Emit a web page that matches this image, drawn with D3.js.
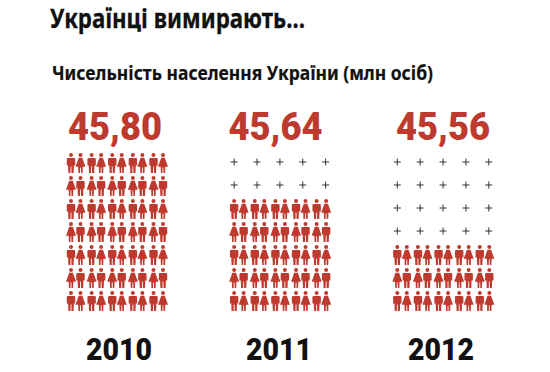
<!DOCTYPE html>
<html>
<head>
<meta charset="utf-8">
<script src="https://cdnjs.cloudflare.com/ajax/libs/d3/7.8.5/d3.min.js"></script>
<style>
  html, body { margin: 0; padding: 0; background: #fff; }
  svg { display: block; }
  text { font-family: "Noto Sans", sans-serif; font-weight: 700; fill: #111; }
  .num, .year { font-family: Roboto, sans-serif; font-weight: 900; }
</style>
</head>
<body>
<div id="chart"></div>
<script>
const titleText = 'Українці вимирають...';
const subtitleText = 'Чисельність населення України (млн осіб)';
const years = ['2010', '2011', '2012'];
const valueLabels = ['45,80', '45,64', '45,56'];
const emptyRows = [0, 2, 4];   // rows of plus signs above the figures
const peopleRows = [7, 5, 3];  // rows of figures

const RED = '#bf3a2e';
const width = 550, height = 372;
const rowCount = d3.max(peopleRows);

const svg = d3.select('#chart').append('svg')
  .attr('width', width)
  .attr('height', height);

// one scale per direction, the little figures are placed from these
const colX = d3.scalePoint().domain(years).range([71, 397.3]);
const rowY = d3.scalePoint().domain(d3.range(rowCount)).range([153, 291]);
const pairX = d3.scalePoint().domain(d3.range(5)).range([0, 82.5]);
const plusX = d3.scalePoint().domain(d3.range(5)).range([0, 91.5]);
const valueX = d3.scaleOrdinal().domain(years).range([115, 275.5, 443]);
const yearX = d3.scaleOrdinal().domain(years).range([119, 279, 441]);

const manBody = 'M-3.6,5 L3.6,5 L4.2,6 L4.2,12.5 L2.9,12.5 L2.6,20 L0.5,20 L0.4,13.5 L-0.4,13.5 L-0.5,20 L-2.6,20 L-2.9,12.5 L-4.2,12.5 L-4.2,6 Z';
const womanBody = 'M-1.8,4.8 L1.8,4.8 L5,13.8 L2.3,13.8 L2.1,20 L0.5,20 L0.4,14.5 L-0.4,14.5 L-0.5,20 L-2.1,20 L-2.3,13.8 L-5,13.8 Z';

function addFigure(g, x, y, isMan) {
  const fig = g.append('g').attr('transform', `translate(${x},${y})`).attr('fill', RED);
  fig.append('circle').attr('cx', 0).attr('cy', 2).attr('r', 2);
  fig.append('path').attr('d', isMan ? manBody : womanBody);
}

function addPlus(g, x, y) {
  const plus = g.append('g').attr('transform', `translate(${x},${y})`)
    .attr('stroke', '#333').attr('stroke-width', 1);
  plus.append('line').attr('x1', -3.5).attr('x2', 3.5);
  plus.append('line').attr('y1', -3.5).attr('y2', 3.5);
}

svg.append('text')
  .attr('x', 50).attr('y', 28)
  .attr('font-size', 27)
  .attr('textLength', 255).attr('lengthAdjust', 'spacingAndGlyphs')
  .style('stroke', '#111').style('stroke-width', 0.3)
  .text(titleText);

svg.append('text')
  .attr('x', 52).attr('y', 80)
  .attr('font-size', 20)
  .attr('textLength', 381).attr('lengthAdjust', 'spacingAndGlyphs')
  .style('stroke', '#111').style('stroke-width', 0.2)
  .text(subtitleText);

years.forEach((year, i) => {
  const g = svg.append('g');
  const x0 = colX(year);

  g.append('text')
    .attr('class', 'num')
    .attr('x', valueX(year)).attr('y', 140)
    .attr('text-anchor', 'middle')
    .attr('font-size', 38)
    .attr('textLength', 94).attr('lengthAdjust', 'spacingAndGlyphs')
    .style('fill', RED)
    .text(valueLabels[i]);

  d3.range(rowCount).forEach(r => {
    if (r < emptyRows[i]) {
      d3.range(5).forEach(c => addPlus(g, x0 + plusX(c), rowY(r) + 9));
      return;
    }
    // men and women swap sides every other row
    const manFirst = r % 2 === 0;
    d3.range(5).forEach(c => {
      addFigure(g, x0 + pairX(c), rowY(r), manFirst);
      addFigure(g, x0 + pairX(c) + 9.5, rowY(r), !manFirst);
    });
  });

  g.append('text')
    .attr('class', 'year')
    .attr('x', yearX(year)).attr('y', 360)
    .attr('text-anchor', 'middle')
    .attr('font-size', 31)
    .attr('textLength', 66).attr('lengthAdjust', 'spacingAndGlyphs')
    .text(year);
});
</script>
</body>
</html>
